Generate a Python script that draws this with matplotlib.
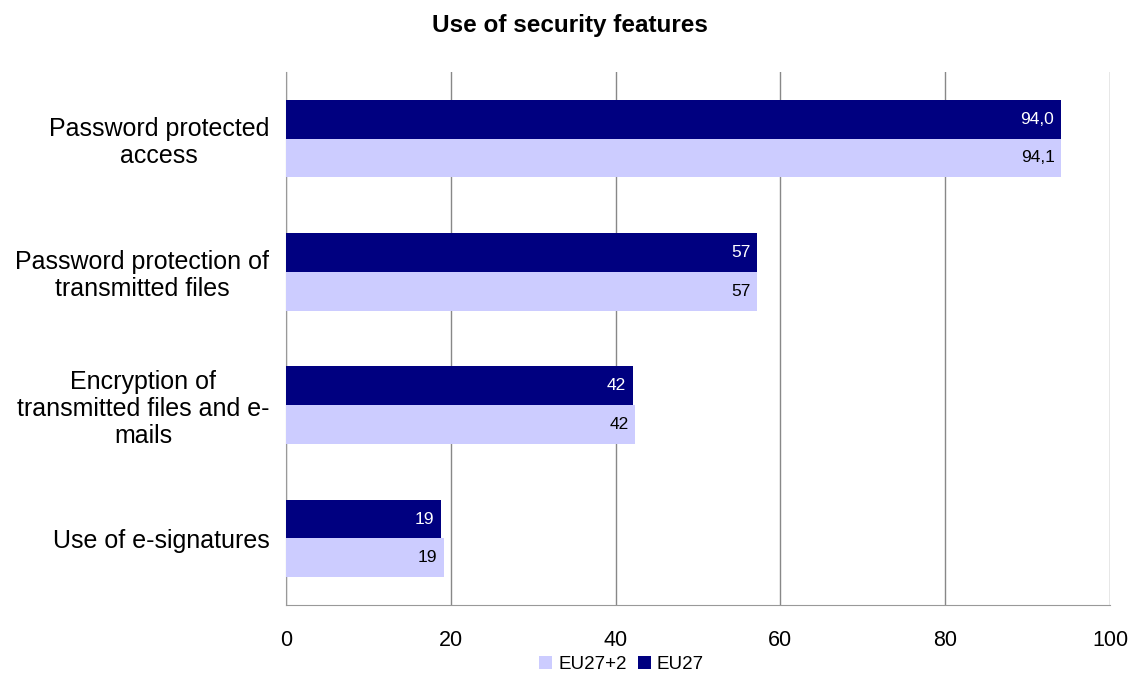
import matplotlib.pyplot as plt
import numpy as np

plt.rcParams['font.family'] = ['Liberation Sans', 'DejaVu Sans']

categories = ['Password protected\naccess', 'Password protection of\ntransmitted files',
              'Encryption of\ntransmitted files and e-\nmails', 'Use of e-signatures']
eu27 = [94.0, 57.2, 42.1, 18.8]
eu27_2 = [94.1, 57.2, 42.4, 19.2]
eu27_labels = ['94,0', '57', '42', '19']
eu27_2_labels = ['94,1', '57', '42', '19']

fig = plt.figure(figsize=(11.3, 6.78), dpi=100)
ax = fig.add_axes([0.2531, 0.1077, 0.7292, 0.7861])

y = np.arange(len(categories))
h = 0.29
b1 = ax.barh(y - h / 2, eu27, height=h, color='#000080', label='EU27', zorder=3)
b2 = ax.barh(y + h / 2, eu27_2, height=h, color='#CCCCFF', label='EU27+2', zorder=3)

for bar, txt in zip(b1, eu27_labels):
    ax.text(bar.get_width() - 0.8, bar.get_y() + bar.get_height() / 2, txt,
            ha='right', va='center', color='white', fontsize=12.5, zorder=4)
for bar, txt in zip(b2, eu27_2_labels):
    ax.text(bar.get_width() - 0.8, bar.get_y() + bar.get_height() / 2, txt,
            ha='right', va='center', color='black', fontsize=12.5, zorder=4)

ax.set_xlim(0, 100)
ax.set_ylim(len(categories) - 0.5, -0.5)
ax.set_xticks(range(0, 101, 20))
ax.set_yticks(y)
ax.set_yticklabels(categories, fontsize=18, multialignment='center', linespacing=1.15)
ax.tick_params(axis='x', labelsize=15.5, length=0, pad=18)
ax.tick_params(axis='y', length=0, pad=12)
ax.xaxis.grid(True, color='#888888', linewidth=1, zorder=0)

for side in ['top', 'right']:
    ax.spines[side].set_visible(False)
ax.spines['left'].set_color('#999999')
ax.spines['bottom'].set_color('#999999')

fig.text(0.504, 0.962, 'Use of security features', fontsize=17.5, fontweight='bold',
         ha='center', va='center')

handles = [b2, b1]
fig.legend(handles, ['EU27+2', 'EU27'], loc='lower center', bbox_to_anchor=(0.55, -0.018),
           ncol=2, frameon=False, fontsize=13.5, handlelength=0.7, handleheight=0.7,
           handletextpad=0.3, columnspacing=0.6)

fig.savefig('out.png', dpi=100)
